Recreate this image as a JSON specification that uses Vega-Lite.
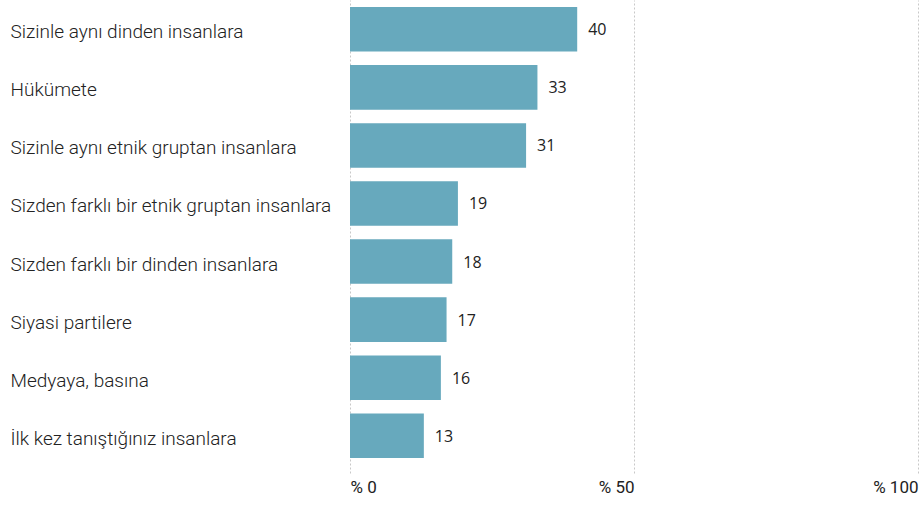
{
  "$schema": "https://vega.github.io/schema/vega-lite/v6.json",
  "width": 568,
  "height": 473,
  "padding": {"left": 10, "top": 0, "right": 3, "bottom": 0},
  "background": "white",
  "config": {"view": {"stroke": null}},
  "data": {
    "values": [
      {"category": "Sizinle aynı dinden insanlara", "value": 40},
      {"category": "Hükümete", "value": 33},
      {"category": "Sizinle aynı etnik gruptan insanlara", "value": 31},
      {"category": "Sizden farklı bir etnik gruptan insanlara", "value": 19},
      {"category": "Sizden farklı bir dinden insanlara", "value": 18},
      {"category": "Siyasi partilere", "value": 17},
      {"category": "Medyaya, basına", "value": 16},
      {"category": "İlk kez tanıştığınız insanlara", "value": 13}
    ]
  },
  "encoding": {
    "y": {
      "field": "category",
      "type": "nominal",
      "sort": null,
      "scale": {"paddingInner": 0.233, "paddingOuter": 0.19, "align": 0.32},
      "axis": {
        "title": null,
        "domain": false,
        "ticks": false,
        "labelAlign": "left",
        "labelPadding": 340,
        "labelOffset": 3,
        "labelFont": "Roboto",
        "labelFontWeight": 300,
        "labelFontSize": 19,
        "labelColor": "#222222",
        "labelLimit": 400
      }
    },
    "x": {
      "field": "value",
      "type": "quantitative",
      "scale": {"domain": [0, 100]},
      "axis": {
        "title": null,
        "values": [0, 50, 100],
        "labelExpr": "'% ' + datum.value",
        "domain": false,
        "ticks": false,
        "grid": true,
        "gridDash": [2, 2],
        "gridColor": "#c8c8c8",
        "gridWidth": 1,
        "labelAlign": {"condition": {"test": "datum.value == 0", "value": "left"}, "value": "right"},
        "labelPadding": 6,
        "labelFont": "Roboto",
        "labelFontSize": 17,
        "labelColor": "#222222"
      }
    }
  },
  "layer": [
    {"mark": {"type": "bar", "color": "#67a9bd"}},
    {
      "mark": {"type": "text", "align": "left", "baseline": "middle", "dx": 11, "dy": 1, "font": "Open Sans", "fontSize": 16, "color": "#222222"},
      "encoding": {"text": {"field": "value", "type": "quantitative"}}
    }
  ]
}
